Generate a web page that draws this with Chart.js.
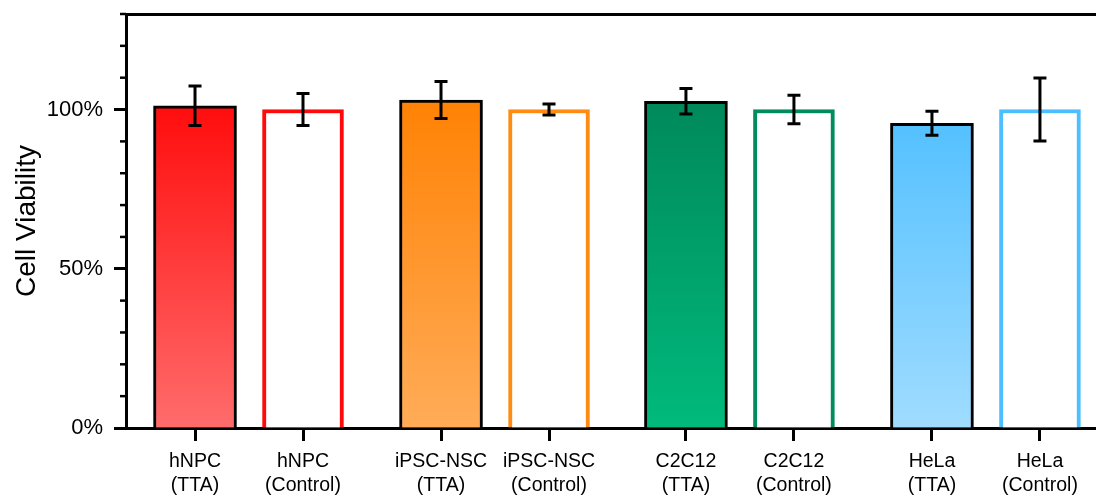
<!DOCTYPE html>
<html>
<head>
<meta charset="utf-8">
<script src="https://cdn.jsdelivr.net/npm/chart.js@4/dist/chart.umd.min.js"></script>
<style>
  html, body { margin: 0; padding: 0; background: #fff; }
  #wrap { width: 1096px; height: 495px; }
</style>
</head>
<body>
<div id="wrap"><canvas id="chart"></canvas></div>
<script>
// Data
const cellLines = ['hNPC', 'iPSC-NSC', 'C2C12', 'HeLa'];
const ttaValues = [101.2, 103.0, 102.6, 95.7];
const ttaErrors = [6.2, 5.8, 4.0, 3.8];
const controlValues = [100, 100, 100, 100];
const controlErrors = [5.0, 1.7, 4.5, 9.9];
const ttaPositions = [0, 2.278, 4.546, 6.824];
const controlPositions = [1, 3.278, 5.546, 7.824];
const yMajorTicks = [0, 50, 100];
const yMinorTicks = [10, 20, 30, 40, 60, 70, 80, 90, 110, 120, 130];

// Colours
const ttaTop = ['#ff0d0d', '#ff8306', '#008a5c', '#50bfff'];
const ttaBottom = ['#ff6c6c', '#ffac58', '#00ba7c', '#a0dcff'];
const controlBorder = ['#ff0a0a', '#ff8c12', '#008c5c', '#4dbeff'];

const FONT = "'Liberation Sans', Arial, sans-serif";

function ttaFill(context) {
    const chart = context.chart;
    const y = chart.scales.y;
    if (!y || !chart.chartArea) return ttaTop[context.dataIndex];
    const g = chart.ctx.createLinearGradient(0, y.getPixelForValue(0), 0, y.getPixelForValue(101));
    g.addColorStop(0, ttaBottom[context.dataIndex]);
    g.addColorStop(1, ttaTop[context.dataIndex]);
    return g;
}

// Error bars and minor y ticks drawn through the scales
const extras = {
    id: 'extras',
    afterDatasetsDraw(chart) {
        const { ctx, scales: { x, y } } = chart;
        ctx.save();
        ctx.strokeStyle = '#000';
        ctx.lineWidth = 3;
        chart.data.datasets.forEach(ds => {
            ds.data.forEach((pt, i) => {
                const px = x.getPixelForValue(pt.x);
                const top = y.getPixelForValue(pt.y + ds.errors[i]);
                const bot = y.getPixelForValue(pt.y - ds.errors[i]);
                ctx.beginPath();
                ctx.moveTo(px, top); ctx.lineTo(px, bot);
                ctx.moveTo(px - 6.5, top); ctx.lineTo(px + 6.5, top);
                ctx.moveTo(px - 6.5, bot); ctx.lineTo(px + 6.5, bot);
                ctx.stroke();
            });
        });
        // minor ticks
        ctx.lineWidth = 2.5;
        yMinorTicks.forEach(v => {
            const py = y.getPixelForValue(v);
            ctx.beginPath();
            ctx.moveTo(y.right - 6, py);
            ctx.lineTo(y.right, py);
            ctx.stroke();
        });
        ctx.restore();
    }
};

const allPositions = [];
const allLabels = [];
cellLines.forEach((name, i) => {
    allPositions.push(ttaPositions[i], controlPositions[i]);
    allLabels.push([name, '(TTA)'], [name, '(Control)']);
});

new Chart(document.getElementById('chart'), {
    type: 'bar',
    data: {
        datasets: [
            {
                label: 'TTA',
                data: ttaPositions.map((p, i) => ({ x: p, y: ttaValues[i] })),
                errors: ttaErrors,
                backgroundColor: ttaFill,
                borderColor: '#000',
                borderWidth: 3,
                barThickness: 83,
                grouped: false
            },
            {
                label: 'Control',
                data: controlPositions.map((p, i) => ({ x: p, y: controlValues[i] })),
                errors: controlErrors,
                backgroundColor: '#fff',
                borderColor: controlBorder,
                borderWidth: 4,
                barThickness: 81,
                grouped: false
            }
        ]
    },
    options: {
        responsive: true,
        maintainAspectRatio: false,
        animation: false,
        layout: { padding: 0 },
        plugins: {
            legend: { display: false },
            tooltip: { enabled: false }
        },
        scales: {
            x: {
                type: 'linear',
                position: 'bottom',
                min: -0.639,
                max: 8.343,
                offset: false,
                afterBuildTicks: (scale) => {
                    scale.ticks = allPositions.map(v => ({ value: v }));
                },
                afterFit: (scale) => {
                    scale.height = 67;
                    scale.paddingLeft = 0;
                    scale.paddingRight = 0;
                },
                grid: {
                    offset: false,
                    drawOnChartArea: false,
                    tickLength: 13,
                    tickWidth: 3,
                    tickColor: '#000'
                },
                border: { display: true, color: '#000', width: 3 },
                ticks: {
                    autoSkip: false,
                    maxRotation: 0,
                    padding: 8,
                    color: '#000',
                    font: { family: FONT, size: 19.5, lineHeight: 1.25 },
                    callback: (value, index) => allLabels[index]
                }
            },
            xTop: {
                type: 'linear',
                position: 'top',
                min: -0.639,
                max: 8.343,
                offset: false,
                afterFit: (scale) => { scale.height = 14; },
                grid: { display: false },
                border: { display: true, color: '#000', width: 3 },
                ticks: { display: false }
            },
            y: {
                min: 0,
                max: 130,
                afterBuildTicks: (scale) => {
                    scale.ticks = yMajorTicks.map(v => ({ value: v }));
                },
                afterFit: (scale) => {
                    scale.width = 126;
                    scale.paddingTop = 0;
                    scale.paddingBottom = 0;
                },
                grid: {
                    drawOnChartArea: false,
                    tickLength: 12,
                    tickWidth: 3,
                    tickColor: '#000'
                },
                border: { display: true, color: '#000', width: 3 },
                ticks: {
                    padding: 11,
                    color: '#000',
                    font: { family: FONT, size: 22 },
                    callback: (v) => v + '%'
                },
                title: {
                    display: true,
                    text: 'Cell Viability',
                    color: '#000',
                    font: { family: FONT, size: 28 },
                    padding: { top: 10, bottom: 0 }
                }
            }
        }
    },
    plugins: [extras]
});
</script>
</body>
</html>
